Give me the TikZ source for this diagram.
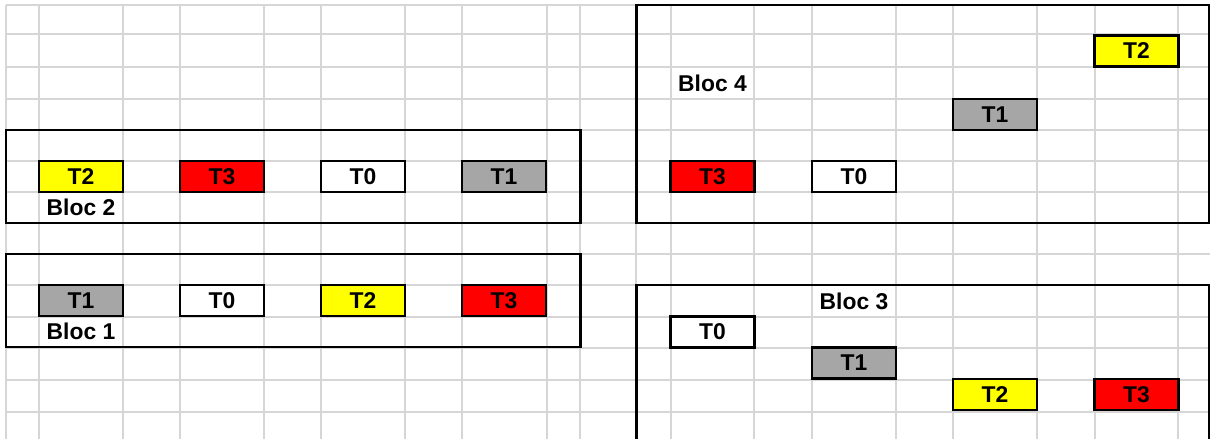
\documentclass[tikz,border=0pt]{standalone}
\usepackage{fontspec}
\setmainfont{Liberation Sans}
\usepackage{tikz}
\usetikzlibrary{positioning}
\usepackage{xcolor}
\definecolor{GridGray}{HTML}{D6D6D6}
\definecolor{TaskGray}{HTML}{A6A6A6}
\definecolor{TaskYellow}{HTML}{FFFF00}
\definecolor{TaskRed}{HTML}{FF0000}

\begin{document}
\begin{tikzpicture}[
  x=0.02cm, y=-0.02cm,
  grid/.style={draw=GridGray, line width=1.1pt},
  bloc/.style={draw=black, line width=1.7pt},
  task/.style={draw=black, line width=1.6pt, minimum width=1.68cm, minimum height=0.62cm,
               inner sep=0pt, font=\fontsize{13}{15}\selectfont\bfseries},
  lbl/.style={font=\fontsize{13}{15}\selectfont\bfseries, inner sep=0pt}
]
  \useasboundingbox (0,0) rectangle (1210,439);

  %% Spreadsheet grid
  \foreach \gx in {6,39,123,180,264,321,405,462,547,580,636,671,754,812,896,953,1037,1095,1178}
    \draw[grid] (\gx,5) -- (\gx,439);
  \foreach \gy in {5,34,67,99,130,161,192,223,254,285,317,348,380,412}
    \draw[grid] (6,\gy) -- (1210,\gy);

  %% Bloc frames
  \draw[bloc] (6,130) rectangle (580,223);
  \draw[bloc] (6,254) rectangle (580,347);
  \draw[bloc] (636,5) rectangle (1209,223);
  \draw[bloc] (636,441) |- (1209,285) -- (1209,441);

  %% Bloc 2
  \node[task, fill=TaskYellow] (b2t2) at (81,176.5)  {T2};
  \node[task, fill=TaskRed]    (b2t3) at (222,176.5) {T3};
  \node[task, fill=white]      (b2t0) at (363,176.5) {T0};
  \node[task, fill=TaskGray]   (b2t1) at (504,176.5) {T1};
  \node[lbl] (b2) at (81,207.5) {Bloc 2};

  %% Bloc 1
  \node[task, fill=TaskGray]   (b1t1) at (81,300.5)  {T1};
  \node[task, fill=white]      (b1t0) at (222,300.5) {T0};
  \node[task, fill=TaskYellow] (b1t2) at (363,300.5) {T2};
  \node[task, fill=TaskRed]    (b1t3) at (504,300.5) {T3};
  \node[lbl] (b1) at (81,331.5) {Bloc 1};

  %% Bloc 4
  \node[lbl] (b4) at (712.5,83) {Bloc 4};
  \node[task, fill=TaskRed]    (b4t3) at (712.5,176.5) {T3};
  \node[task, fill=white]      (b4t0) at (854,176.5)   {T0};
  \node[task, fill=TaskGray]   (b4t1) at (995,114.5)   {T1};
  \node[task, fill=TaskYellow] (b4t2) at (1136.5,51)   {T2};

  %% Bloc 3
  \node[lbl] (b3) at (854,301) {Bloc 3};
  \node[task, fill=white]      (b3t0) at (712.5,332)  {T0};
  \node[task, fill=TaskGray]   (b3t1) at (854,363)    {T1};
  \node[task, fill=TaskYellow] (b3t2) at (995,394.5)  {T2};
  \node[task, fill=TaskRed]    (b3t3) at (1136.5,394.5) {T3};
\end{tikzpicture}
\end{document}
